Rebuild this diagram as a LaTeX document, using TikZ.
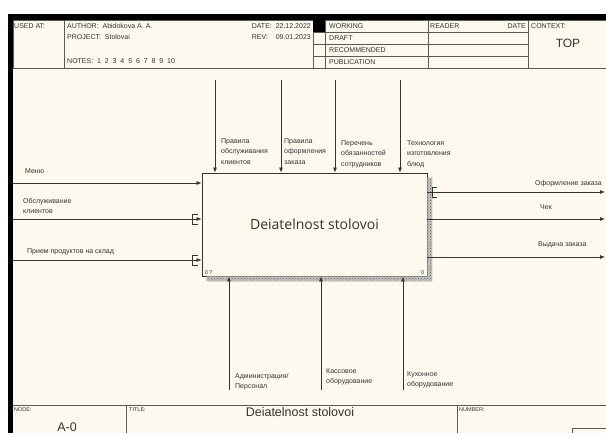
\documentclass[tikz,border=0pt]{standalone}
\usepackage{fontspec}
\setmainfont{Liberation Sans}
\newfontfamily\boxfont{Open Sans}
\usetikzlibrary{positioning,arrows.meta,patterns,calc}
\definecolor{paper}{HTML}{FDF9EE}
\definecolor{ink}{HTML}{333333}
\definecolor{frame}{HTML}{5E5A52}

\tikzset{
  lbl/.style={font=\fontsize{7}{10.5}\selectfont, text=ink, align=left, inner sep=0pt, anchor=north west},
  hdr/.style={font=\fontsize{7}{8}\selectfont, text=ink, inner sep=0pt, anchor=base west},
  small/.style={font=\fontsize{5.5}{6}\selectfont, text=ink, inner sep=0pt, anchor=base west},
  big/.style={font=\fontsize{12.5}{13}\selectfont, text=ink, inner sep=0pt},
  flow/.style={-{Latex[length=5pt,width=4pt]}, draw=ink, line width=0.75pt},
  tunnel/.style={draw=ink, line width=0.7pt},
}

\begin{document}
\begin{tikzpicture}[x=1pt,y=-1pt,>=Latex]
  \useasboundingbox (0,0) rectangle (606,433);
  \fill[paper] (8,14) rectangle (606,433);
  \fill[black] (8,14) rectangle (606,20);
  \fill[black] (8,14) rectangle (13,433);

  % header
  \draw[frame, line width=0.6pt] (13,20) rectangle (606,68);
  \foreach \hx in {64,313,325,428,528} \draw[frame, line width=0.6pt] (\hx,20) -- (\hx,68);
  \foreach \hy in {32,44,56} \draw[frame, line width=0.6pt] (313,\hy) -- (528,\hy);
  \fill[black] (313,20) rectangle (325,32);
  \node[hdr] (usedat) at (14,29) {USED AT:};
  \node[hdr] (author) at (67,29) {AUTHOR:~~Abidokova A. A.};
  \node[hdr] (project) at (67,40) {PROJECT:~~Stolovai};
  \node[hdr] (notes) at (67,64) {NOTES:~~1~~2~~3~~4~~5~~6~~7~~8~~9~~10};
  \node[hdr, anchor=base east] (date) at (311,29) {DATE:~~22.12.2022};
  \node[hdr, anchor=base east] (rev) at (311,40) {REV:~~~~09.01.2023};
  \foreach \st/\sy in {WORKING/29,DRAFT/41,RECOMMENDED/53,PUBLICATION/65}
    \node[hdr] (st-\st) at (329,\sy) {\st};
  \node[hdr] (reader) at (430,29) {READER};
  \node[hdr, anchor=base east] (rdate) at (526,29) {DATE};
  \node[hdr] (context) at (531,29) {CONTEXT:};
  \node[big, font=\fontsize{12}{12}\selectfont] (ctx) at (568,43) {TOP};

  % footer
  \draw[frame, line width=0.6pt] (13,405) -- (606,405);
  \draw[frame, line width=0.6pt] (126,405) -- (126,434);
  \draw[frame, line width=0.6pt] (457,405) -- (457,434);
  \draw[frame, line width=0.6pt] (572,434) -- (572,428) -- (607,428);
  \node[small] (nodelbl) at (14,411) {NODE:};
  \node[big] (nodeno) at (67,427) {A-0};
  \node[small] (titlelbl) at (129,411) {TITLE:};
  \node[big] (title) at (300,412) {Deiatelnost stolovoi};
  \node[small] (numlbl) at (459,411) {NUMBER:};

  % activity box
  \node[draw=ink, line width=0.8pt, fill=paper, minimum width=225pt, minimum height=103pt,
        inner sep=0pt, text=ink, font=\boxfont\fontsize{14}{14}\selectfont] (act) at (314.5,224.5) {Deiatelnost stolovoi};
  \fill[frame!35, postaction={pattern=crosshatch dots, pattern color=frame}]
    ($(act.north east)+(0,5)$) -- ($(act.north east)+(5,5)$) -- ($(act.south east)+(5,5)$)
    -- ($(act.south west)+(5,5)$) -- ($(act.south west)+(5,0)$) -- (act.south east) -- cycle;
  \node[small, anchor=south west] (cost) at ($(act.south west)+(3,-2)$) {0 ?};
  \node[small, anchor=south east] (boxno) at ($(act.south east)+(-3,-2)$) {0};

  % inputs
  \foreach \nm/\iy in {in1/183,in2/219,in3/260} {
    \coordinate (\nm) at (13,\iy);
    \draw[flow] (\nm) -- (\nm -| act.west);
  }
  \draw[tunnel] (198,214) -- (192,214) -- (192,224) -- (198,224);
  \draw[tunnel] (198,255) -- (192,255) -- (192,265) -- (198,265);
  \node[lbl] (l-in1) at (25,168) {Меню};
  \node[lbl] (l-in2) at (23,198) {Обслуживание\\клиентов};
  \node[lbl] (l-in3) at (27,248) {Прием продуктов на склад};

  % controls
  \foreach \nm/\cx in {ct1/215,ct2/281,ct3/335,ct4/400} {
    \coordinate (\nm) at (\cx,80);
    \draw[flow] (\nm) -- (\nm |- act.north);
  }
  \node[lbl] (l-ct1) at (221,138) {Правила\\обслуживания\\клиентов};
  \node[lbl] (l-ct2) at (284,138) {Правила\\оформления\\заказа};
  \node[lbl] (l-ct3) at (341,140) {Перечень\\обязанностей\\сотрудников};
  \node[lbl] (l-ct4) at (407,140) {Технология\\изготовления\\блюд};

  % outputs
  \foreach \nm/\oy in {out1/192,out2/219,out3/257} {
    \coordinate (\nm) at (605,\oy);
    \draw[flow] (\nm -| act.east) -- (\nm);
  }
  \draw[tunnel] (437,187) -- (432,187) -- (432,197) -- (437,197);
  \node[lbl, anchor=north east] (l-out1) at (602,180) {Оформление заказа};
  \node[lbl] (l-out2) at (540,204) {Чек};
  \node[lbl] (l-out3) at (538,241) {Выдача заказа};

  % mechanisms
  \foreach \nm/\mx in {mc1/229,mc2/321,mc3/403} {
    \coordinate (\nm) at (\mx,390);
    \draw[flow] (\nm) -- (\nm |- act.south);
  }
  \node[lbl] (l-mc1) at (235,373) {Администрация/\\Персонал};
  \node[lbl] (l-mc2) at (326,368) {Кассовое\\оборудование};
  \node[lbl] (l-mc3) at (407,371) {Кухонное\\оборудование};
\end{tikzpicture}
\end{document}
